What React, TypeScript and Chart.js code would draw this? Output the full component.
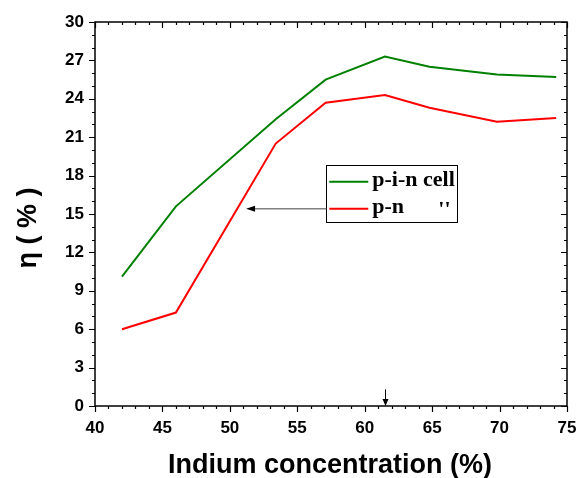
import React, { useEffect, useRef } from "react";
import { Chart, registerables } from "chart.js";

Chart.register(...registerables);

const indium = [42, 46, 53.4, 57.1, 61.5, 64.8, 69.8, 74.2];
const pinCell = [10.1, 15.6, 22.4, 25.5, 27.3, 26.5, 25.9, 25.7];
const pnCell = [6.0, 7.3, 20.5, 23.7, 24.3, 23.3, 22.2, 22.5];
const xTicks = [40, 45, 50, 55, 60, 65, 70, 75];
const yTicks = [0, 3, 6, 9, 12, 15, 18, 21, 24, 27, 30];
const legendLabels = ["p-i-n cell", "p-n", "''"];
const xTitle = "Indium concentration (%)";
const yTitle = "η ( % )";

const GREEN = "#008000";
const RED = "#ff0000";

const decorPlugin = {
  id: "decor",
  afterDraw(chart: any) {
    const ctx = chart.ctx;
    const { left, right, top, bottom } = chart.chartArea;
    const xs = chart.scales.x;
    const ys = chart.scales.y;
    ctx.save();
    // frame
    ctx.strokeStyle = "#000";
    ctx.lineWidth = 1.5;
    ctx.strokeRect(left, top, right - left, bottom - top);
    ctx.lineWidth = 1.2;
    // x ticks
    for (let v = 40; v <= 75; v += 1) {
      const px = Math.round(xs.getPixelForValue(v)) + 0.5;
      const major = v % 5 === 0;
      const len = major ? 6 : 3;
      ctx.beginPath();
      ctx.moveTo(px, bottom);
      ctx.lineTo(px, bottom + len);
      ctx.moveTo(px, top);
      ctx.lineTo(px, top + len);
      ctx.stroke();
    }
    // y ticks
    for (let v = 0; v <= 30; v += 1) {
      const py = Math.round(ys.getPixelForValue(v)) + 0.5;
      const major = v % 3 === 0;
      const len = major ? 6 : 3;
      ctx.beginPath();
      ctx.moveTo(left, py);
      ctx.lineTo(left - len, py);
      ctx.moveTo(right, py);
      ctx.lineTo(right - len, py);
      ctx.stroke();
    }
    // down arrow at x=61.5
    const ax = Math.round(xs.getPixelForValue(61.5)) + 0.5;
    const ay0 = ys.getPixelForValue(1.3);
    const ay1 = ys.getPixelForValue(0);
    ctx.strokeStyle = "#000";
    ctx.lineWidth = 1;
    ctx.beginPath();
    ctx.moveTo(ax, ay0);
    ctx.lineTo(ax, ay1 - 6);
    ctx.stroke();
    ctx.fillStyle = "#000";
    ctx.beginPath();
    ctx.moveTo(ax - 3, ay1 - 7);
    ctx.lineTo(ax + 3, ay1 - 7);
    ctx.lineTo(ax, ay1);
    ctx.closePath();
    ctx.fill();

    // legend box
    const bx0 = xs.getPixelForValue(57.15);
    const bx1 = xs.getPixelForValue(66.83);
    const by0 = ys.getPixelForValue(18.85);
    const by1 = ys.getPixelForValue(14.4);
    ctx.lineWidth = 1;
    ctx.strokeStyle = "#000";
    ctx.strokeRect(Math.round(bx0) + 0.5, Math.round(by0) + 0.5, Math.round(bx1 - bx0), Math.round(by1 - by0));
    const row1 = by0 + 17;
    const row2 = by0 + 44;
    ctx.lineWidth = 2;
    ctx.strokeStyle = GREEN;
    ctx.beginPath();
    ctx.moveTo(bx0 + 3, row1);
    ctx.lineTo(bx0 + 42, row1);
    ctx.stroke();
    ctx.strokeStyle = RED;
    ctx.beginPath();
    ctx.moveTo(bx0 + 3, row2);
    ctx.lineTo(bx0 + 42, row2);
    ctx.stroke();
    ctx.fillStyle = "#000";
    ctx.font = "bold 22px 'Liberation Serif'";
    ctx.textBaseline = "alphabetic";
    ctx.textAlign = "left";
    ctx.fillText(legendLabels[0], bx0 + 46, row1 + 4);
    ctx.fillText(legendLabels[1], bx0 + 46, row2 + 4);
    ctx.fillText(legendLabels[2], bx0 + 112, row2 + 7);

    // pointer arrow from legend to curve
    const tipX = xs.getPixelForValue(51.2);
    ctx.strokeStyle = "#808080";
    ctx.lineWidth = 1.5;
    ctx.beginPath();
    ctx.moveTo(bx0, row2);
    ctx.lineTo(tipX + 8, row2);
    ctx.stroke();
    ctx.fillStyle = "#000";
    ctx.beginPath();
    ctx.moveTo(tipX, row2);
    ctx.lineTo(tipX + 9, row2 - 3);
    ctx.lineTo(tipX + 9, row2 + 3);
    ctx.closePath();
    ctx.fill();

    // y title
    ctx.save();
    ctx.translate(29, (top + bottom) / 2 + 14);
    ctx.rotate(-Math.PI / 2);
    ctx.font = "bold 27px 'Liberation Sans'";
    ctx.textAlign = "center";
    ctx.textBaseline = "middle";
    ctx.fillStyle = "#000";
    ctx.fillText(yTitle, 0, 0);
    ctx.restore();

    // x title
    ctx.font = "bold 27px 'Liberation Sans'";
    ctx.textAlign = "center";
    ctx.textBaseline = "middle";
    ctx.fillStyle = "#000";
    ctx.fillText(xTitle, (left + right) / 2 - 1, 466);
    ctx.restore();
  },
};

export default function App() {
  const ref = useRef<HTMLCanvasElement>(null);
  useEffect(() => {
    document.body.style.margin = "0";
    const chart = new Chart(ref.current!, {
      type: "line",
      data: {
        datasets: [
          {
            label: legendLabels[0],
            data: indium.map((x, i) => ({ x, y: pinCell[i] })),
            borderColor: GREEN,
            borderWidth: 2,
            pointRadius: 0,
            tension: 0,
          },
          {
            label: legendLabels[1],
            data: indium.map((x, i) => ({ x, y: pnCell[i] })),
            borderColor: RED,
            borderWidth: 2,
            pointRadius: 0,
            tension: 0,
          },
        ],
      },
      options: {
        animation: false,
        responsive: false,
        layout: { padding: { left: 0, top: 22, right: 10, bottom: 0 } },
        plugins: { legend: { display: false }, tooltip: { enabled: false } },
        scales: {
          x: {
            type: "linear",
            min: 40,
            max: 75,
            afterFit: (s: any) => {
              s.height = 72;
              s.paddingLeft = 0;
              s.paddingRight = 0;
            },
            afterBuildTicks: (s: any) => {
              s.ticks = xTicks.map((v) => ({ value: v }));
            },
            grid: { display: false, drawTicks: false },
            border: { display: false },
            ticks: {
              padding: 12,
              color: "#000",
              font: { family: "'Liberation Sans'", size: 17, weight: "bold" },
              maxRotation: 0,
            },
          },
          y: {
            type: "linear",
            min: 0,
            max: 30,
            afterFit: (s: any) => {
              s.width = 95;
              s.paddingTop = 0;
              s.paddingBottom = 0;
            },
            afterBuildTicks: (s: any) => {
              s.ticks = yTicks.map((v) => ({ value: v }));
            },
            grid: { display: false, drawTicks: false },
            border: { display: false },
            ticks: {
              padding: 11,
              color: "#000",
              font: { family: "'Liberation Sans'", size: 17, weight: "bold" },
            },
          },
        },
      } as any,
      plugins: [decorPlugin],
    });
    return () => chart.destroy();
  }, []);
  return <canvas ref={ref} width={577} height={478} style={{ display: "block" }} />;
}
